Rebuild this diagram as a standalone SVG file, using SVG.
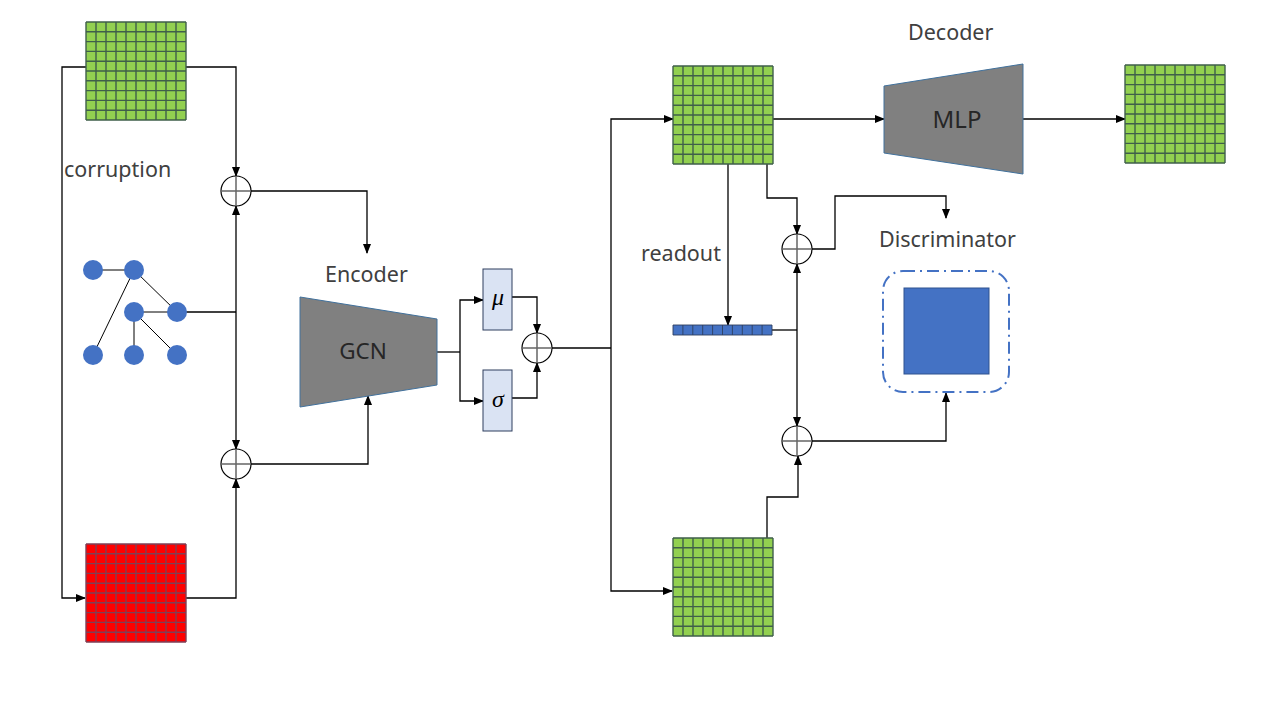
<svg xmlns="http://www.w3.org/2000/svg" xmlns:xlink="http://www.w3.org/1999/xlink" width="1280" height="720" viewBox="0 0 1280 720">
<style>
.lbl{font-family:"Noto Sans","Liberation Sans",sans-serif;font-size:21.5px;fill:#404040}
.mod{fill:#808080;stroke:#41719C;stroke-width:1}
.modt{font-family:"Noto Sans","Liberation Sans",sans-serif;fill:#262626;text-anchor:middle}
.conn{fill:none;stroke:#000;stroke-width:1.3}
.arr{marker-end:url(#ah)}
.plus circle{fill:#fff;stroke:#000;stroke-width:1.2}
.plus path{stroke:#666;stroke-width:1.5;fill:none}
.gauss{fill:#DAE3F3;stroke:#2F3F5F;stroke-width:1}
.greek{font-family:"Liberation Serif",serif;font-style:italic;font-size:24px;fill:#000;text-anchor:middle}
.node{fill:#4472C4}
.edge{stroke:#000;stroke-width:1}
</style>
<defs>
<marker id="ah" markerWidth="10" markerHeight="8" refX="9" refY="4" orient="auto" markerUnits="userSpaceOnUse">
<path d="M0,0 L10,4 L0,8 Z" fill="#000"/>
</marker>
<g id="gridLines">
<path d="M0,0V98M10,0V98M20,0V98M30,0V98M40,0V98M50,0V98M60,0V98M70,0V98M80,0V98M90,0V98M100,0V98M0,0H100M0,9.8H100M0,19.6H100M0,29.4H100M0,39.2H100M0,49H100M0,58.8H100M0,68.6H100M0,78.4H100M0,88.2H100M0,98H100" fill="none"/>
</g>
<g id="gridG">
<rect x="0" y="0" width="100" height="98" fill="#92D050"/>
<use xlink:href="#gridLines" stroke="#3F5F4A" stroke-width="1.4"/>
</g>
<g id="gridR">
<rect x="0" y="0" width="100" height="98" fill="#FF0000"/>
<use xlink:href="#gridLines" stroke="#7F3F55" stroke-width="1.4"/>
</g>
</defs>
<rect width="1280" height="720" fill="#fff"/>

<g id="connectors">
<path class="conn arr" d="M86,67 H62 V598 H85"/>
<path class="conn arr" d="M186,67 H236 V176"/>
<path class="conn arr" d="M251,191 H367 V253"/>
<path class="conn" d="M176,312 H236"/>
<path class="conn arr" d="M236,312 V206"/>
<path class="conn arr" d="M236,312 V449"/>
<path class="conn arr" d="M186,598 H236 V479"/>
<path class="conn arr" d="M251,464 H368 V396"/>
<path class="conn" d="M437,352 H460"/>
<path class="conn arr" d="M460,352 V300 H483"/>
<path class="conn arr" d="M460,352 V401 H483"/>
<path class="conn arr" d="M512,297 H537 V333"/>
<path class="conn arr" d="M512,398 H537 V363"/>
<path class="conn" d="M552,348 H611"/>
<path class="conn arr" d="M611,348 V119 H673"/>
<path class="conn arr" d="M611,348 V591 H672"/>
<path class="conn arr" d="M772,119 H884"/>
<path class="conn arr" d="M1023,119 H1125"/>
<path class="conn arr" d="M728,163 V325"/>
<path class="conn arr" d="M767,163 V198 H797 V234"/>
<path class="conn arr" d="M812,249 H835 V196 H946 V218"/>
<path class="conn" d="M772,330 H797"/>
<path class="conn arr" d="M797,330 V264"/>
<path class="conn arr" d="M797,330 V426"/>
<path class="conn arr" d="M812,441 H946 V393"/>
<path class="conn arr" d="M767,538 V497 H798 V456"/>
</g>

<g id="feat-x"><use xlink:href="#gridG" x="86" y="22"/></g>
<g id="feat-corrupt"><use xlink:href="#gridR" x="86" y="544"/></g>
<text class="lbl" x="64" y="177">corruption</text>

<g id="graph">
<line class="edge" x1="93" y1="270" x2="134" y2="270"/>
<line class="edge" x1="134" y1="270" x2="93" y2="355"/>
<line class="edge" x1="134" y1="270" x2="177" y2="312"/>
<line class="edge" x1="134" y1="312" x2="177" y2="312"/>
<line class="edge" x1="134" y1="312" x2="134" y2="355"/>
<line class="edge" x1="134" y1="312" x2="177" y2="355"/>
<circle class="node" cx="93" cy="270" r="10"/>
<circle class="node" cx="134" cy="270" r="10"/>
<circle class="node" cx="134" cy="312" r="10"/>
<circle class="node" cx="177" cy="312" r="10"/>
<circle class="node" cx="93" cy="355" r="10"/>
<circle class="node" cx="134" cy="355" r="10"/>
<circle class="node" cx="177" cy="355" r="10"/>
</g>

<g id="plus1" class="plus"><circle cx="236" cy="191" r="15"/><path d="M221,191H251M236,176V206"/></g>
<g id="plus2" class="plus"><circle cx="236" cy="464" r="15"/><path d="M221,464H251M236,449V479"/></g>

<g id="encoder">
<text class="lbl" x="325" y="282">Encoder</text>
<polygon class="mod" points="300,297 437,319 437,385 300,407"/>
<text class="modt" x="363" y="359" font-size="22.5">GCN</text>
</g>

<g id="mu"><rect class="gauss" x="483" y="269" width="29" height="61"/><text class="greek" x="498" y="305">μ</text></g>
<g id="sigma"><rect class="gauss" x="483" y="370" width="29" height="61"/><text class="greek" x="498" y="407">σ</text></g>

<g id="plus3" class="plus"><circle cx="537" cy="348" r="15"/><path d="M522,348H552M537,333V363"/></g>

<g id="z"><use xlink:href="#gridG" x="673" y="66"/></g>
<g id="z-neg"><use xlink:href="#gridG" x="673" y="538"/></g>
<g id="x-rec"><use xlink:href="#gridG" x="1125" y="65"/></g>

<g id="decoder">
<text class="lbl" x="908" y="40">Decoder</text>
<polygon class="mod" points="884,86 1023,64 1023,174 884,153"/>
<text class="modt" x="957" y="128" font-size="24">MLP</text>
</g>

<g id="readout">
<text class="lbl" x="641" y="261">readout</text>
<rect x="673" y="325" width="99" height="10" fill="#4472C4"/>
<path d="M673,325H772V335H673ZM682.9,325V335M692.8,325V335M702.7,325V335M712.6,325V335M722.5,325V335M732.4,325V335M742.3,325V335M752.2,325V335M762.1,325V335" fill="none" stroke="#2F3F5F" stroke-width="0.9"/>
</g>

<g id="plus4" class="plus"><circle cx="797" cy="249" r="15"/><path d="M782,249H812M797,234V264"/></g>
<g id="plus5" class="plus"><circle cx="797" cy="441" r="15"/><path d="M782,441H812M797,426V456"/></g>

<g id="discriminator">
<text class="lbl" x="879" y="247">Discriminator</text>
<rect x="883" y="271" width="126" height="121" rx="20" ry="20" fill="none" stroke="#4472C4" stroke-width="2" stroke-dasharray="12,5,2,5"/>
<rect x="904" y="288" width="85" height="86" fill="#4472C4" stroke="#2F528F" stroke-width="1"/>
</g>
</svg>
